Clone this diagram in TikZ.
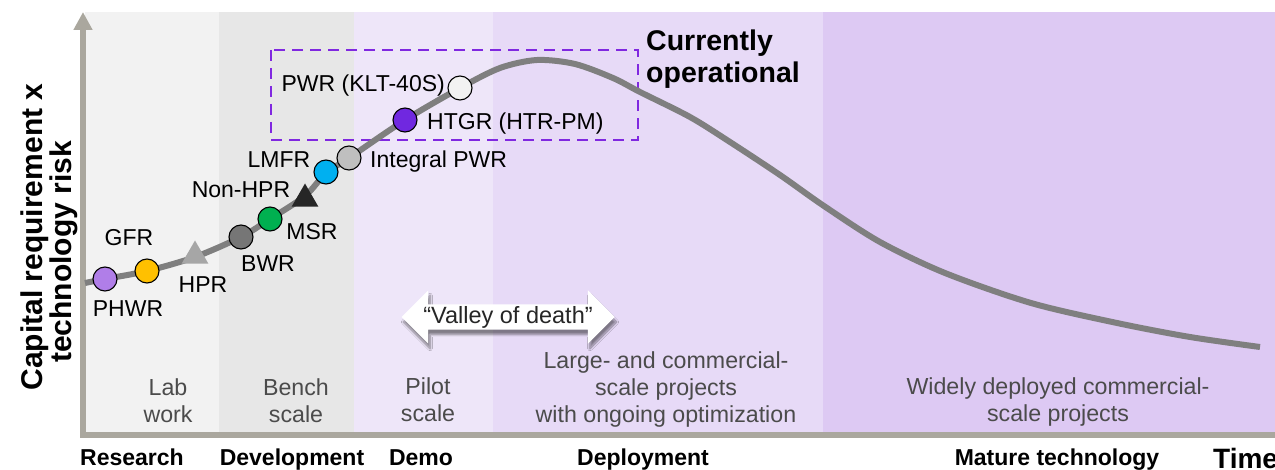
\documentclass[tikz,border=0pt]{standalone}
\usepackage{fontspec}
\setmainfont{Liberation Sans}
\usepackage{xcolor}
\usetikzlibrary{arrows.meta,positioning,shapes.geometric,shapes.arrows,shadows.blur}

\definecolor{axisgray}{RGB}{170,167,158}
\definecolor{curvegray}{RGB}{127,127,127}
\definecolor{researchbg}{RGB}{242,242,242}
\definecolor{devbg}{RGB}{231,231,231}
\definecolor{demobg}{RGB}{238,230,249}
\definecolor{deploybg}{RGB}{231,218,247}
\definecolor{maturebg}{RGB}{221,201,243}
\definecolor{boxpurple}{RGB}{128,40,224}
\definecolor{stagetext}{RGB}{75,75,75}
\definecolor{phwrcol}{RGB}{176,126,232}
\definecolor{gfrcol}{RGB}{255,192,0}
\definecolor{hprcol}{RGB}{166,166,166}
\definecolor{bwrcol}{RGB}{118,118,118}
\definecolor{msrcol}{RGB}{0,176,80}
\definecolor{nonhprcol}{RGB}{38,38,38}
\definecolor{lmfrcol}{RGB}{0,176,240}
\definecolor{ipwrcol}{RGB}{191,191,191}
\definecolor{htgrcol}{RGB}{112,40,224}
\definecolor{kltcol}{RGB}{242,242,242}

\begin{document}
\begin{tikzpicture}[x=1pt,y=-1pt,
  axisline/.style={draw=axisgray,line width=6pt},
  scurve/.style={draw=curvegray,line width=6pt},
  reactor/.style={circle,draw=black,line width=1.1pt,minimum size=24pt,inner sep=0pt},
  reactortri/.style={regular polygon,regular polygon sides=3,minimum size=31pt,inner sep=0pt},
  lbl/.style={font=\fontsize{23}{27}\selectfont,inner sep=0pt},
  stage/.style={font=\fontsize{23.2}{27}\selectfont,text=stagetext,align=center,inner sep=0pt},
  phase/.style={font=\bfseries\fontsize{23}{27}\selectfont,inner sep=0pt,anchor=base},
  ytitle/.style={font=\bfseries\fontsize{30}{32}\selectfont,rotate=90,inner sep=0pt,anchor=base},
  opbox/.style={draw=boxpurple,line width=2.5pt,dash pattern=on 11pt off 7pt},
  valley/.style={double arrow,fill=white,minimum height=213pt,
    double arrow head extend=14pt,inner xsep=0pt,inner ysep=1.5pt,
    font=\fontsize{23.5}{27}\selectfont,text=black!85,
    blur shadow={shadow xshift=2pt,shadow yshift=-5pt,shadow opacity=45,shadow blur steps=10}}]
  \useasboundingbox (0,0) rectangle (1275,470);

  % stage backgrounds
  \foreach \a/\b/\col in {85/219/researchbg, 219/354/devbg, 354/493/demobg,
    493/823/deploybg, 823/1275/maturebg}
  \fill[\col] (\a,12) rectangle (\b,432);

  % axes
  \coordinate (origin) at (83,434.5);
  \coordinate (ytop) at (83,12);
  \coordinate (xend) at (1275,434.5);
  \draw[axisline,-{Triangle[width=18pt,length=18pt]}] (origin) -- (ytop);
  \draw[axisline] ([xshift=-3pt]origin) -- (xend);

  % currently operational
  \draw[opbox] (271,50) rectangle (638,140);
  \node[font=\bfseries\fontsize{28.5}{32}\selectfont,align=left,inner sep=0pt,anchor=west]
  (oper) at (646,59) {Currently\\operational};

  % cost x risk curve
  \draw[scurve] plot[smooth] coordinates {(85,283) (105,279) (147,271) (195,257)
    (241,237) (270,219) (305,196) (326,173) (349,158) (405,120) (460,88) (500,68)
    (537,60) (575,64) (613,78) (640,92) (690,117) (730,142) (780,175) (824,206)
    (880,242) (945,273) (1031,303) (1117,323) (1190,337) (1260,347)};

  % reactor types on the curve
  \foreach \name/\x/\y/\col in {phwr/105/279/phwrcol, gfr/147/271/gfrcol,
    bwr/241/237/bwrcol, msr/270/219/msrcol, lmfr/326/172/lmfrcol,
    ipwr/349/158/ipwrcol, htgr/405/120/htgrcol, klt/460/88/kltcol}
  \node[reactor,fill=\col] (\name) at (\x,\y) {};
  \node[reactortri,fill=hprcol] (hpr) at (195,256) {};
  \node[reactortri,fill=nonhprcol] (nonhpr) at (305,199) {};

  \node[lbl,anchor=base] (phwr-l) at (128,317) {PHWR};
  \node[lbl,anchor=base] (gfr-l) at (129,246) {GFR};
  \node[lbl,anchor=base] (hpr-l) at (203,293) {HPR};
  \node[lbl,anchor=base] (bwr-l) at (268,272) {BWR};
  \node[lbl,anchor=base] (msr-l) at (312,240) {MSR};
  \node[lbl,anchor=base] (nonhpr-l) at (241,198) {Non-HPR};
  \node[lbl,anchor=base] (lmfr-l) at (279,168) {LMFR};
  \node[lbl,anchor=base west] (ipwr-l) at (370,168) {Integral PWR};
  \node[lbl,anchor=base west] (htgr-l) at (427,130) {HTGR (HTR-PM)};
  \node[lbl,anchor=base east] (klt-l) at (445,92) {PWR (KLT-40S)};

  \node[valley] (valley) at (508,317) {“Valley of death”};

  % stages inside the bands
  \node[stage] (lab) at (168,401) {Lab\\work};
  \node[stage] (bench) at (296,401) {Bench\\scale};
  \node[stage] (pilot) at (428,400) {Pilot\\scale};
  \node[stage] (large) at (666,390) {Large- and commercial-\\scale projects\\with ongoing optimization};
  \node[stage] (widely) at (1058,402) {Widely deployed commercial-\\scale projects};

  % phases below the time axis
  \foreach \x/\txt [count=\i] in {132/Research, 292/Development, 421/Demo,
    643/Deployment, 1057/Mature technology}
  \node[phase] (phase\i) at (\x,465) {\txt};
  \node[font=\bfseries\fontsize{28}{30}\selectfont,inner sep=0pt,anchor=base west]
  (time) at (1213,468) {Time};

  \node[ytitle] (ytitle1) at (42,237) {Capital requirement x};
  \node[ytitle] (ytitle2) at (71,252) {technology risk};
\end{tikzpicture}
\end{document}
